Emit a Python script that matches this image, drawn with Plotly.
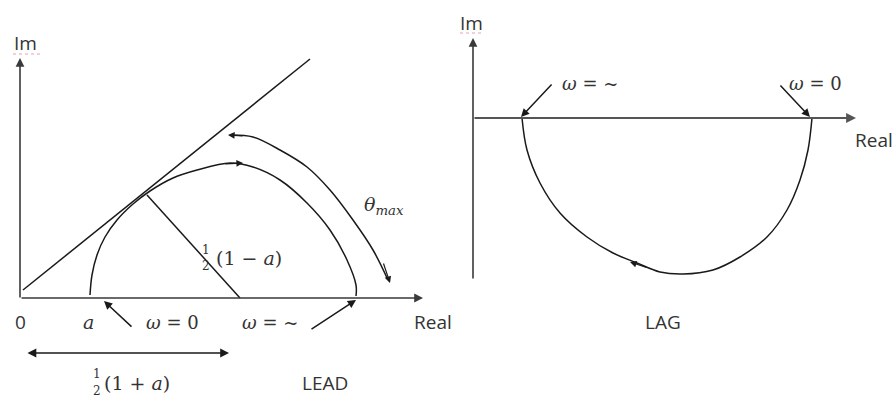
import plotly.graph_objects as go

# Diagram coordinates are in a 895 x 402 canvas (y grows downward)

# LEAD: polar plot of the lead network (semicircle from a to 1)
lead_x = [90, 92, 97, 105, 117, 133, 150, 173, 197, 230, 253, 280, 307, 330, 347, 356, 356]
lead_y = [295, 275, 255, 237, 220, 204, 191, 178, 170, 163, 167, 180, 203, 230, 260, 285, 296]

# tangent line from the origin, and radius from the centre to the tangent point
tangent_x = [23, 310]
tangent_y = [290, 59]
radius_x = [147, 240]
radius_y = [195, 298]

# theta_max arc
theta_x = [232, 253, 280, 307, 330, 353, 373, 388]
theta_y = [135, 137, 150, 167, 190, 220, 250, 280]

# LAG: polar plot of the lag network
lag_x = [522, 527, 540, 560, 587, 613, 637, 660, 683, 713, 740, 767, 787, 800, 808, 812]
lag_y = [118, 150, 183, 213, 237, 253, 263, 272, 274, 270, 257, 237, 210, 180, 150, 118]

LINE = "#1a1a1a"
AXIS = "#3a3a3a"
SANS = "Open Sans"
SERIF = "DejaVu Serif"

fig = go.Figure()


def curve(x, y, color=LINE, width=1.5, shape="spline"):
    fig.add_trace(
        go.Scatter(
            x=x, y=y, mode="lines", hoverinfo="skip",
            line=dict(color=color, width=width, shape=shape, smoothing=1.0),
        )
    )


curve(lead_x, lead_y)
curve(tangent_x, tangent_y, shape="linear")
curve(radius_x, radius_y, shape="linear")
curve(theta_x, theta_y)
curve(lag_x, lag_y)


def arrow(x0, y0, x1, y1, width=1.5, color=LINE, head=2, size=1.1, side="end"):
    fig.add_annotation(
        x=x1, y=y1, ax=x0, ay=y0, xref="x", yref="y", axref="x", ayref="y",
        text="", showarrow=True, arrowhead=head, arrowsize=size,
        arrowwidth=width, arrowcolor=color, arrowside=side, standoff=0,
        startstandoff=0,
    )


def label(x, y, text, size=19, family=SANS, color="#333333", anchor="center"):
    fig.add_annotation(
        x=x, y=y, xref="x", yref="y", text=text, showarrow=False,
        xanchor=anchor, font=dict(family=family, size=size, color=color),
    )


# axes of the LEAD diagram
arrow(20, 299, 20, 58, width=1.6, color=AXIS)
arrow(20, 298, 423, 298, width=1.6, color=AXIS)
# axes of the LAG diagram
arrow(473, 280, 473, 38, width=1.6, color=AXIS)
arrow(473, 118, 856, 118, width=1.8, color="#555555")

# arrowheads along the curves
arrow(224, 164, 243, 163, width=1.2)
arrow(244, 136, 228, 135, width=1.2)
arrow(383, 262, 390, 283, width=1.2)
arrow(648, 268, 630, 262, width=1.2)

# frequency pointers
arrow(133, 328, 104, 301)
arrow(310, 330, 356, 300)
arrow(553, 83, 521, 117)
arrow(779, 84, 810, 117)
# 1/2(1+a) span
arrow(26, 353, 229, 353, width=1.6, side="end+start")

# labels
label(25, 43, "Im")
label(471, 23, "Im")
label(20, 322, "0")
label(88, 322, "<i>a</i>", size=19, family=SERIF)
label(172, 322, "<i>ω</i> = 0", size=18, family=SERIF)
label(270, 322, "<i>ω</i> = ~", size=18, family=SERIF)
label(433, 322, "Real")
label(853, 140, "Real", anchor="left")
label(590, 83, "<i>ω</i> = ~", size=18, family=SERIF)
label(815, 83, "<i>ω</i> = 0", size=18, family=SERIF)
label(206, 250, "1", size=12, family=SERIF)
label(206, 266, "2", size=12, family=SERIF)
label(214, 258, "(1 − <i>a</i>)", size=19, family=SERIF, anchor="left")
label(97, 374, "1", size=12, family=SERIF)
label(97, 391, "2", size=12, family=SERIF)
label(102, 383, "(1 + <i>a</i>)", size=19, family=SERIF, anchor="left")
label(362, 205, "<i>θ<sub>max</sub></i>", size=19, family=SERIF, anchor="left")
label(325, 383, "LEAD")
label(663, 322, "LAG")

# spell-check squiggles under "Im"
fig.add_shape(type="line", x0=13, x1=43, y0=54, y1=54, xref="x", yref="y",
              line=dict(color="#e8a0b0", width=1, dash="dot"))
fig.add_shape(type="line", x0=460, x1=484, y0=33, y1=33, xref="x", yref="y",
              line=dict(color="#e8a0b0", width=1, dash="dot"))

fig.update_layout(
    width=895,
    height=402,
    margin=dict(l=0, r=0, t=0, b=0),
    paper_bgcolor="white",
    plot_bgcolor="white",
    showlegend=False,
    xaxis=dict(range=[0, 895], visible=False, fixedrange=True),
    yaxis=dict(range=[402, 0], visible=False, fixedrange=True),
)

fig.write_html(
    "out.html",
    config={"displayModeBar": False},
    post_script="document.body.style.margin='0';",
)
